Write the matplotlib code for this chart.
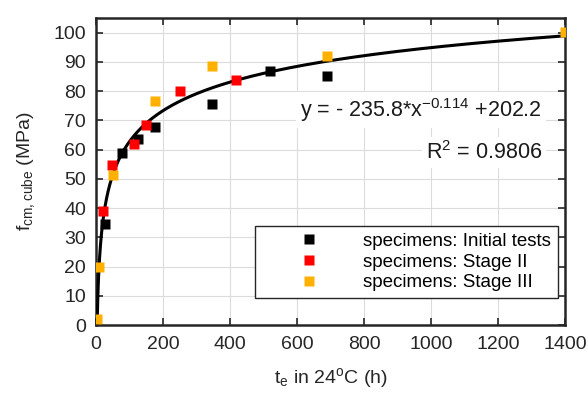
import numpy as np
import matplotlib.pyplot as plt

plt.rcParams['font.family'] = ['Liberation Sans', 'DejaVu Sans']

# Initial tests
t_init = [27, 77, 126, 176, 347, 519, 690]
f_init = [34.5, 58.8, 63.8, 67.8, 75.6, 87.0, 85.3]
# Stage II
t_st2 = [22, 47, 114, 151, 250, 419]
f_st2 = [39.0, 54.6, 61.9, 68.3, 80.2, 84.0]
# Stage III
t_st3 = [4, 9, 52, 176, 347, 690, 1400]
f_st3 = [2.0, 20.0, 51.4, 76.7, 88.5, 91.9, 100.2]

# fitted curve coefficients (as printed on the chart)
a, b, c = -235.8, -0.114, 202.2

fig = plt.figure(figsize=(5.88, 3.94), dpi=100)
ax = fig.add_axes([0.163, 0.175, 0.798, 0.779])

xf = np.linspace(1, 1400, 2000)
ax.plot(xf, a * xf**b + c, color='black', lw=2.2, zorder=3)

ax.plot(t_init, f_init, 's', color='black', ms=7.5, mec='none', zorder=4,
        label='specimens: Initial tests')
ax.plot(t_st2, f_st2, 's', color='#ff0000', ms=7.5, mec='none', zorder=4,
        label='specimens: Stage II')
ax.plot(t_st3, f_st3, 's', color='#ffb000', ms=7.5, mec='none', zorder=4,
        label='specimens: Stage III')

ax.set_xlim(0, 1400)
ax.set_ylim(0, 105)
ax.set_xticks(np.arange(0, 1401, 200))
ax.set_yticks(np.arange(0, 101, 10))
ax.grid(True, color='#dcdcdc', lw=0.8)
ax.set_axisbelow(True)
ax.tick_params(direction='in', top=True, right=True, labelsize=14,
               length=5, width=1.2, colors='#262626')
ax.tick_params(axis='x', pad=8)
ax.tick_params(axis='y', pad=7)
for s in ax.spines.values():
    s.set_linewidth(1.8)
    s.set_color('#262626')

ax.set_xlabel(r'$\mathregular{t_e}$ in 24$\mathregular{^oC}$ (h)', fontsize=14,
              color='#262626', labelpad=9)
ax.set_ylabel(r'$\mathregular{f_{cm,cube}}$ (MPa)', fontsize=14, color='#262626',
              labelpad=12)

box = dict(facecolor='white', edgecolor='none', pad=3)
ax.text(1331, 73.6, r'y = - 235.8*x$\mathregular{^{-0.114}}$ +202.2', fontsize=15.5,
        ha='right', va='center', bbox=box, color='#1a1a1a')
ax.text(1331, 58.9, r'R$\mathregular{^2}$ = 0.9806', fontsize=15.5,
        ha='right', va='center', bbox=box, color='#1a1a1a')

leg = ax.legend(loc='lower right', bbox_to_anchor=(0.984, 0.088), fontsize=13.5,
                frameon=True, fancybox=False, handlelength=5.0, handletextpad=0.4,
                borderpad=0.35, labelspacing=0.2, borderaxespad=0, framealpha=1)
leg.get_frame().set_edgecolor('#262626')
leg.get_frame().set_linewidth(1.0)

fig.savefig('out.png', dpi=100)
